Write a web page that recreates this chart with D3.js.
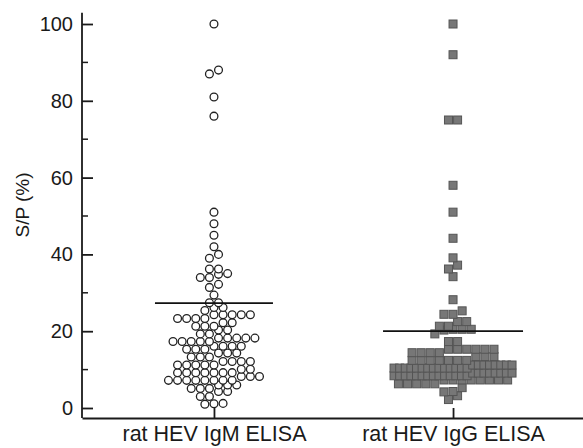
<!DOCTYPE html>
<html lang="en">
  <head>
    <meta charset="utf-8" />
    <style>
      body { margin: 0; background: #fff; }
      svg text { font-family: "Liberation Sans", Arial, sans-serif; fill: #1a1a1a; }
    </style>
  </head>
  <body>
    <script type="text/javascript" src="https://d3js.org/d3.v7.min.js"></script>
    <script>
      // categories and values (S/P %)
      var categories = ["rat HEV IgM ELISA", "rat HEV IgG ELISA"];

      var igmValues = [
        1.0, 1.1, 1.2,
        3.0, 3.0, 4.3, 4.3,
        5.1, 5.1, 5.1, 6.0, 6.0, 6.0,
        7.2, 7.2, 7.2, 7.2, 7.2, 7.2, 7.2, 7.2, 8.2, 8.2, 8.2,
        9.2, 9.2, 9.2, 9.2, 9.2, 9.2, 9.2, 10.1, 10.1,
        11.2, 11.2, 11.2, 11.2, 11.2, 12.1, 12.1, 12.1, 12.1,
        13.3, 13.3, 13.3, 14.3, 14.3, 14.3,
        15.3, 15.3, 15.3, 16.1, 16.1, 16.1, 16.1,
        17.3, 17.3, 17.3, 17.3, 17.3, 18.2, 18.2, 18.2, 18.2, 18.2,
        19.3, 19.3, 20.3, 20.3,
        21.3, 21.3, 21.3, 22.2, 22.2,
        23.3, 23.3, 23.3, 23.3, 24.3, 24.3, 24.3, 24.3, 24.3,
        25.4, 26.2, 26.2,
        27.4, 27.4,
        29.4, 31.4, 32.2, 34, 34, 34.8, 35, 36.2, 36.2, 39, 40,
        42, 45, 48, 51, 76, 81, 87, 88, 100
      ];

      var iggValues = [
        2.2, 3.2,
        4.2, 4.3, 5.3,
        6.3, 6.3, 6.3, 6.3, 6.3, 7.3, 7.3, 7.3, 7.3, 7.3, 7.3, 7.3, 7.3,
        8.4, 8.4, 8.4, 8.4, 8.4, 8.4, 8.4, 8.4, 8.4, 8.4, 8.4, 8.4, 8.4, 8.4,
        9.1, 9.1, 9.1, 9.1, 9.1, 9.1, 9.1, 9.1,
        10.4, 10.4, 10.4, 10.4, 10.4, 10.4, 10.4, 10.4, 10.4, 10.4, 10.4, 10.4, 10.4, 10.4,
        11.2, 11.2, 11.2, 11.2, 11.2, 11.2, 11.2, 11.2,
        12.4, 12.4, 12.4, 12.4, 12.4, 12.4, 12.4, 13.4, 13.4, 13.4,
        14.4, 14.4, 14.4, 14.4, 15.3, 15.3, 15.3, 15.3, 15.3, 15.3,
        17.3, 17.3,
        19.3, 20.3, 20.5, 20.5, 20.5,
        21.3, 21.3, 22.5, 22.5,
        24.4, 24.4, 25.3,
        28.2, 34.2, 36.2, 37.2, 39.1, 44.2, 51, 58, 75, 75, 92, 100
      ];

      // horizontal bars drawn across each group
      var lineValues = [27.3, 20.0];

      var yTicks = [0, 20, 40, 60, 80, 100];
      var yMinorTicks = [10, 30, 50, 70, 90];

      var width = 583,
        height = 448;

      var svg = d3
        .select("body")
        .append("svg")
        .attr("width", width)
        .attr("height", height);

      var y = d3.scaleLinear().domain([0, 100]).range([408, 24]);
      var x = d3.scalePoint().domain(categories).range([82, 585]).padding(0.552);

      // prism style column scatter: group into rows, spread each row around the centre
      function swarm(values, rowHeight, step, maxWidth) {
        var sorted = values.slice().sort(d3.ascending);
        var rows = [];
        var cur = null;
        sorted.forEach(function (v) {
          if (!cur || v >= cur.start + rowHeight - 1e-6) {
            cur = { start: v, vals: [] };
            rows.push(cur);
          }
          cur.vals.push(v);
        });
        var out = [];
        rows.forEach(function (r) {
          var n = r.vals.length;
          var s = n > 1 ? Math.min(step, maxWidth / (n - 1)) : 0;
          r.vals.forEach(function (v, i) {
            out.push({ value: v, dx: (i - (n - 1) / 2) * s });
          });
        });
        return out;
      }

      var igmPts = swarm(igmValues, 1.9, 9.1, 118);
      var iggPts = swarm(iggValues, 1.9, 9.1, 118);

      // axes
      var axisColor = "#1a1a1a";
      var yAxis = svg
        .append("g")
        .attr("transform", "translate(82,0)")
        .call(d3.axisLeft(y).tickValues(yTicks).tickSize(-11).tickSizeOuter(0).tickPadding(9));
      yAxis.select(".domain").remove();
      yAxis.selectAll("line").attr("stroke", axisColor).attr("stroke-width", 1.8);
      yAxis.selectAll("text").style("font-size", "20px").attr("fill", axisColor);

      svg
        .append("g")
        .selectAll("line")
        .data(yMinorTicks)
        .join("line")
        .attr("x1", 82)
        .attr("x2", 88)
        .attr("y1", function (d) { return y(d); })
        .attr("y2", function (d) { return y(d); })
        .attr("stroke", axisColor)
        .attr("stroke-width", 1.5);

      svg
        .append("line")
        .attr("x1", 82)
        .attr("x2", 82)
        .attr("y1", y(-2.6))
        .attr("y2", y(102.9))
        .attr("stroke", axisColor)
        .attr("stroke-width", 1.8);

      var xAxis = svg
        .append("g")
        .attr("transform", "translate(0," + y(-2.6) + ")")
        .call(d3.axisBottom(x).tickSize(-10).tickSizeOuter(0).tickPadding(8));
      xAxis.select(".domain").attr("stroke", axisColor).attr("stroke-width", 1.8);
      xAxis.selectAll("line").attr("stroke", axisColor).attr("stroke-width", 1.8);
      xAxis.selectAll("text").style("font-size", "21.5px").attr("fill", axisColor);

      svg
        .append("text")
        .attr("transform", "translate(29," + 205 + ") rotate(-90)")
        .attr("text-anchor", "middle")
        .style("font-size", "19px")
        .text("S/P (%)");

      // IgM: open circles
      svg
        .append("g")
        .selectAll("circle")
        .data(igmPts)
        .join("circle")
        .attr("cx", function (d) { return x(categories[0]) + d.dx; })
        .attr("cy", function (d) { return y(d.value); })
        .attr("r", 3.9)
        .attr("fill", "#fff")
        .attr("stroke", "#222")
        .attr("stroke-width", 1.3);

      // IgG: grey squares
      var sq = 8;
      svg
        .append("g")
        .selectAll("rect")
        .data(iggPts)
        .join("rect")
        .attr("x", function (d) { return x(categories[1]) + d.dx - sq / 2; })
        .attr("y", function (d) { return y(d.value) - sq / 2; })
        .attr("width", sq)
        .attr("height", sq)
        .attr("fill", "#777")
        .attr("stroke", "#555")
        .attr("stroke-width", 1);

      // group lines
      var halfLen = [59, 70];
      svg
        .append("g")
        .selectAll("line")
        .data(lineValues)
        .join("line")
        .attr("x1", function (d, i) { return x(categories[i]) - halfLen[i]; })
        .attr("x2", function (d, i) { return x(categories[i]) + halfLen[i]; })
        .attr("y1", function (d) { return y(d); })
        .attr("y2", function (d) { return y(d); })
        .attr("stroke", "#111")
        .attr("stroke-width", 1.8);
    </script>
  </body>
</html>
